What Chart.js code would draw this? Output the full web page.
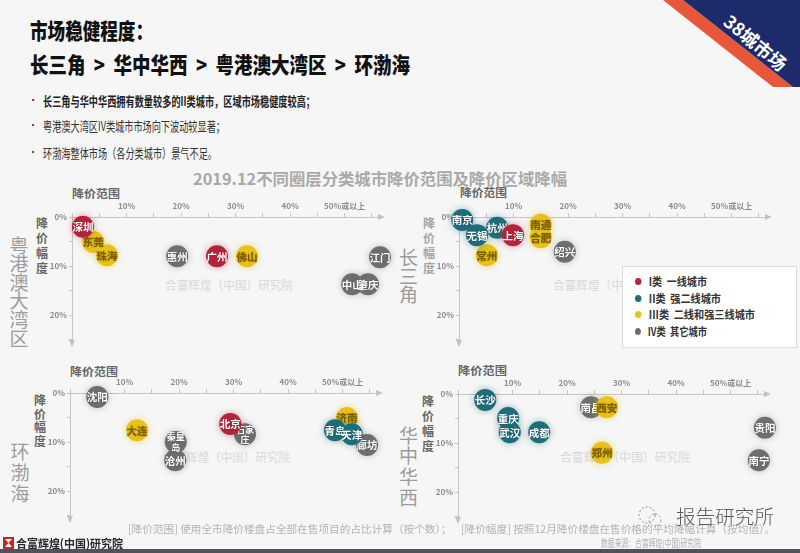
<!DOCTYPE html>
<html lang="zh">
<head>
<meta charset="utf-8">
<title>2019.12不同圈层分类城市降价范围及降价区域降幅</title>
<script src="https://cdn.jsdelivr.net/npm/chart.js@4.4.1/dist/chart.umd.min.js"></script>
<style>
  html, body { margin: 0; padding: 0; }
  body {
    width: 800px; height: 553px; overflow: hidden; position: relative;
    background: #f6f6f6;
    font-family: "Noto Sans CJK SC", "Noto Sans", sans-serif;
  }
  .t { position: absolute; white-space: nowrap; transform-origin: 0 50%; z-index: 2; }
  .v { position: absolute; text-align: center; z-index: 2; }
  .wm { position: absolute; white-space: nowrap; transform-origin: 0 50%; z-index: 1;
        color: #d9d9d9; font-size: 12px; line-height: 12px; }
  canvas { position: absolute; z-index: 2; }
  .gt { margin: 0 10px; }
  #legend {
    position: absolute; left: 622px; top: 266px; width: 175px; height: 82px;
    background: #fff; border: 1px solid #dcdcdc; box-sizing: border-box; z-index: 3;
  }
  #legend .item { position: absolute; left: 12px; height: 12px; line-height: 12px;
    font-size: 11px; font-weight: bold; color: #333; white-space: nowrap;
    transform-origin: 0 50%; }
  #legend .dot { display: inline-block; width: 7px; height: 7px; border-radius: 50%;
    margin-right: 8px; vertical-align: 1px; }
</style>
</head>
<body>

<!-- header -->
<div class="t" data-w="123" style="left:30px;top:18px;font-size:22px;line-height:22px;font-weight:900;color:#111;">市场稳健程度：</div>
<div class="t" data-w="380" style="left:30px;top:52px;font-size:22px;line-height:22px;font-weight:900;color:#111;">长三角<span class="gt">&gt;</span>华中华西<span class="gt">&gt;</span>粤港澳大湾区<span class="gt">&gt;</span>环渤海</div>

<div class="t" style="left:28px;top:94px;font-size:10px;line-height:12px;color:#333;">•</div>
<div class="t" style="left:28px;top:119px;font-size:10px;line-height:12px;color:#333;">•</div>
<div class="t" style="left:28px;top:146px;font-size:10px;line-height:12px;color:#333;">•</div>
<div class="t" data-w="272" style="left:43px;top:93.5px;font-size:13px;line-height:13px;font-weight:bold;color:#222;">长三角与华中华西拥有数量较多的II类城市，区域市场稳健度较高；</div>
<div class="t" data-w="182" style="left:43px;top:118.5px;font-size:13px;line-height:13px;color:#333;">粤港澳大湾区IV类城市市场向下波动较显著；</div>
<div class="t" data-w="174" style="left:43px;top:145.5px;font-size:13px;line-height:13px;color:#333;">环渤海整体市场（各分类城市）景气不足。</div>

<div class="t" data-w="374" style="left:193px;top:170px;font-size:16px;line-height:16px;font-weight:bold;color:#a9a9a9;">2019.12不同圈层分类城市降价范围及降价区域降幅</div>

<!-- ribbon -->
<svg style="position:absolute;left:0;top:0;z-index:4;" width="800" height="100">
  <polygon points="663,0 683,0 793,87 773,87" fill="#e8573a"/>
  <polygon points="683,0 800,0 800,87 793,87" fill="#1d2b6c"/>
  <text transform="translate(756,42) rotate(40)" text-anchor="middle" dominant-baseline="central"
        fill="#fff" font-size="18" font-weight="bold" font-family="Noto Sans CJK SC">38城市场</text>
</svg>

<!-- panel watermarks -->
<div class="wm" data-w="128" style="left:165px;top:279px;">合富辉煌（中国）研究院</div>
<div class="wm" data-w="128" style="left:553px;top:279px;">合富辉煌（中国）研究院</div>
<div class="wm" data-w="127" style="left:163px;top:451px;">合富辉煌（中国）研究院</div>
<div class="wm" data-w="130" style="left:560px;top:451px;">合富辉煌（中国）研究院</div>

<!-- axis titles -->
<div class="t" data-w="48" style="left:72px;top:187px;font-size:11px;line-height:12px;font-weight:bold;color:#666;">降价范围</div>
<div class="t" data-w="47" style="left:460px;top:186px;font-size:11px;line-height:12px;font-weight:bold;color:#666;">降价范围</div>
<div class="t" data-w="48" style="left:70px;top:365px;font-size:11px;line-height:12px;font-weight:bold;color:#666;">降价范围</div>
<div class="t" data-w="49" style="left:458px;top:364px;font-size:11px;line-height:12px;font-weight:bold;color:#666;">降价范围</div>

<div class="v" style="left:36px;top:214.5px;width:12px;font-size:12px;line-height:15px;font-weight:bold;color:#666;">降<br>价<br>幅<br>度</div>
<div class="v" style="left:423px;top:214.5px;width:12px;font-size:12px;line-height:15px;font-weight:bold;color:#a5a5a5;">降<br>价<br>幅<br>度</div>
<div class="v" style="left:34px;top:393px;width:12px;font-size:12px;line-height:13.5px;font-weight:bold;color:#666;">降<br>价<br>幅<br>度</div>
<div class="v" style="left:422px;top:392.5px;width:12px;font-size:12px;line-height:15px;font-weight:bold;color:#666;">降<br>价<br>幅<br>度</div>

<!-- region labels -->
<div class="v" style="left:9.5px;top:235.7px;width:19px;font-size:19px;line-height:18.6px;color:#9c9c9c;">粤<br>港<br>澳<br>大<br>湾<br>区</div>
<div class="v" style="left:399px;top:248px;width:19px;font-size:19px;line-height:18.5px;color:#9c9c9c;">长<br>三<br>角</div>
<div class="v" style="left:10.5px;top:439.5px;width:19px;font-size:19px;line-height:21px;color:#9c9c9c;">环<br>渤<br>海</div>
<div class="v" style="left:399px;top:424.6px;width:19px;font-size:19px;line-height:20.7px;color:#9c9c9c;">华<br>中<br>华<br>西</div>

<canvas id="c-gba" width="378" height="170" style="left:27px;top:187px;"></canvas>
<canvas id="c-yrd" width="378" height="170" style="left:414px;top:187px;"></canvas>
<canvas id="c-bohai" width="378" height="170" style="left:25px;top:363px;"></canvas>
<canvas id="c-cw" width="378" height="170" style="left:413px;top:364px;"></canvas>

<div id="legend"></div>

<!-- footer -->
<div class="t" data-w="647" style="left:128px;top:522.5px;font-size:10.5px;line-height:11px;color:#b3b3b3;">[降价范围] 使用全市降价楼盘占全部在售项目的占比计算（按个数）；&nbsp;&nbsp;&nbsp;&nbsp;[降价幅度] 按照12月降价楼盘在售价格的平均降幅计算（按均值）。</div>
<div class="t" data-w="100" style="left:601px;top:538px;font-size:10px;line-height:10px;color:#b0b0b0;">数据来源：合富辉煌(中国)研究院</div>

<svg style="position:absolute;left:636px;top:505px;z-index:2;" width="28" height="24">
  <circle cx="11" cy="10" r="8" fill="none" stroke="#888" stroke-width="1" stroke-dasharray="2 2"/>
  <circle cx="19" cy="15" r="6" fill="none" stroke="#999" stroke-width="1" stroke-dasharray="2 2"/>
</svg>
<div class="t" data-w="98" style="left:676px;top:506px;font-size:19px;line-height:20px;font-weight:300;color:#5a5a5a;">报告研究所</div>

<svg style="position:absolute;left:3px;top:537px;z-index:2;" width="11" height="12">
  <rect x="0" y="0" width="11" height="12" fill="#c3262e"/>
  <polygon points="2,2 9,2 5.5,6 9,10 2,10 5.5,6" fill="#f5f5f5"/>
</svg>
<div class="t" data-w="107" style="left:16px;top:537px;font-size:11.5px;line-height:12px;font-weight:bold;color:#2a2a2a;">合富辉煌(中国)研究院</div>
<div style="position:absolute;left:0;top:549px;width:800px;height:4px;background:#4d545c;"></div>

<script>
// 分类
const tierNames = ['I类  一线城市', 'II类  强二线城市', 'III类  二线和强三线城市', 'IV类  其它城市'];

// 刻度
const rangeTickValues = [10, 20, 30, 40, 50];
const rangeTickLabels = ['10%', '20%', '30%', '40%', '50%或以上'];
const dropTickValues = [0, 10, 20];
const dropTickLabels = ['0%', '10%', '20%'];

// 粤港澳大湾区
const gbaCities = ['深圳', '东莞', '珠海', '惠州', '广州', '佛山', '江门', '中山', '肇庆'];
const gbaRange  = [2.0, 3.9, 6.4, 19.3, 26.6, 32.1, 56.5, 51.4, 54.3];
const gbaDrop   = [2.0, 5.1, 7.8, 8.0, 8.0, 8.0, 8.2, 13.7, 13.7];
const gbaTier   = [1, 3, 3, 4, 1, 3, 4, 4, 4];

// 长三角
const yrdCities = ['南京', '无锡', '杭州', '上海', '南通', '合肥', '常州', '绍兴'];
const yrdRange  = [0.6, 3.3, 7.0, 9.9, 15.0, 15.0, 5.1, 19.4];
const yrdDrop   = [0.6, 3.7, 2.2, 3.7, 1.6, 4.1, 7.8, 7.1];
const yrdTier   = [2, 2, 2, 1, 3, 3, 3, 4];

// 环渤海
const bohaiCities = ['沈阳', '大连', '秦皇岛', '沧州', '北京', '石家庄', '济南', '青岛', '天津', '廊坊'];
const bohaiRange  = [5.0, 12.3, 19.4, 19.3, 29.4, 32.1, 50.8, 48.6, 51.7, 54.5];
const bohaiDrop   = [0.8, 7.6, 10.0, 13.7, 6.3, 8.4, 5.1, 7.6, 8.4, 10.6];
const bohaiTier   = [4, 3, 4, 4, 1, 4, 3, 2, 2, 4];

// 华中华西
const cwCities = ['长沙', '重庆', '武汉', '成都', '南昌', '西安', '郑州', '贵阳', '南宁'];
const cwRange  = [5.0, 9.2, 9.5, 14.9, 24.4, 27.3, 26.4, 56.3, 55.2];
const cwDrop   = [1.2, 4.9, 7.8, 7.8, 2.7, 2.7, 12.0, 6.9, 13.5];
const cwTier   = [2, 2, 2, 2, 4, 3, 3, 4, 4];

const tierColors = ['#b3243b', '#1f6d7b', '#e8c11a', '#6e6e6e'];
const tierGlow = ['rgba(179,36,59,0.45)', 'rgba(31,109,123,0.45)', 'rgba(232,193,26,0.55)', 'rgba(110,110,110,0.4)'];
const tierText = ['#ffffff', '#ffffff', '#7d5f00', '#ffffff'];

// 坐标轴箭头
const arrowPlugin = {
  id: 'arrows',
  afterDraw(chart) {
    const { ctx, chartArea: { left, top, right, bottom } } = chart;
    ctx.save();
    ctx.fillStyle = '#c2c2c2';
    ctx.beginPath();
    ctx.moveTo(right + 5, top);
    ctx.lineTo(right - 2, top - 3);
    ctx.lineTo(right - 2, top + 3);
    ctx.closePath();
    ctx.fill();
    ctx.beginPath();
    ctx.moveTo(left, bottom + 5);
    ctx.lineTo(left - 3, bottom - 2);
    ctx.lineTo(left + 3, bottom - 2);
    ctx.closePath();
    ctx.fill();
    ctx.restore();
  }
};

// 气泡光晕和城市名
const bubblePlugin = {
  id: 'bubbleLabels',
  beforeDatasetDraw(chart, args) {
    const ds = chart.data.datasets[args.index];
    chart.ctx.save();
    chart.ctx.shadowColor = ds.glow;
    chart.ctx.shadowBlur = 7;
  },
  afterDatasetDraw(chart, args) {
    const ctx = chart.ctx;
    ctx.restore();
    const ds = chart.data.datasets[args.index];
    ctx.save();
    ctx.fillStyle = ds.textColor;
    ctx.textAlign = 'center';
    ctx.textBaseline = 'middle';
    ctx.shadowColor = 'rgba(0,0,0,0.35)';
    ctx.shadowBlur = 1.5;
    args.meta.data.forEach((el, i) => {
      const name = ds.names[i];
      if (name.length > 2) {
        ctx.font = 'bold 9px "Noto Sans CJK SC"';
        ctx.fillText(name.slice(0, 2), el.x, el.y - 5);
        ctx.fillText(name.slice(2), el.x, el.y + 5.5);
      } else {
        ctx.font = 'bold 10.5px "Noto Sans CJK SC"';
        ctx.fillText(name, el.x, el.y + 0.5);
      }
    });
    ctx.restore();
  }
};

const tickFont = { family: '"Noto Sans CJK SC"', size: 8, weight: 'bold' };

function makePanel(canvasId, cities, range, drop, tier) {
  const datasets = tierNames.map((name, t) => {
    const idx = tier.map((v, i) => (v === t + 1 ? i : -1)).filter(i => i >= 0);
    return {
      label: name,
      data: idx.map(i => ({ x: range[i], y: drop[i] })),
      names: idx.map(i => cities[i]),
      backgroundColor: tierColors[t],
      glow: tierGlow[t],
      textColor: tierText[t],
      borderWidth: 0,
      radius: 11,
      hoverRadius: 0,
      clip: false
    };
  });

  return new Chart(document.getElementById(canvasId), {
    type: 'bubble',
    data: { datasets },
    options: {
      responsive: false,
      animation: false,
      events: [],
      layout: { autoPadding: false, padding: { left: 0, top: 0, right: 25, bottom: 15 } },
      plugins: { legend: { display: false }, tooltip: { enabled: false } },
      scales: {
        x: {
          type: 'linear', position: 'top', min: 0, max: 56.5,
          afterFit(scale) { scale.height = 30; },
          border: { color: '#c6c6c6', width: 1 },
          grid: { drawOnChartArea: false, tickLength: 4, color: '#c6c6c6' },
          ticks: {
            stepSize: 5, includeBounds: false, autoSkip: false, maxRotation: 0,
            padding: 2, color: '#8c8c8c', font: tickFont,
            callback(v) {
              const k = rangeTickValues.indexOf(v);
              return k >= 0 ? rangeTickLabels[k] : '';
            }
          }
        },
        y: {
          type: 'linear', position: 'left', reverse: true, min: 0, max: 25.5,
          afterFit(scale) { scale.width = 45; },
          border: { color: '#c6c6c6', width: 1 },
          grid: { drawOnChartArea: false, tickLength: 3, color: '#c6c6c6' },
          ticks: {
            stepSize: 5, includeBounds: false, autoSkip: false,
            padding: 2, color: '#8c8c8c', font: tickFont,
            callback(v) {
              const k = dropTickValues.indexOf(v);
              return k >= 0 ? dropTickLabels[k] : '';
            }
          }
        }
      }
    },
    plugins: [arrowPlugin, bubblePlugin]
  });
}

function fitTexts() {
  document.querySelectorAll('[data-w]').forEach(el => {
    el.style.transform = 'none';
    const natural = el.getBoundingClientRect().width;
    if (natural > 0) el.style.transform = 'scaleX(' + (Number(el.dataset.w) / natural) + ')';
  });
}

document.addEventListener('DOMContentLoaded', function() {
  makePanel('c-gba', gbaCities, gbaRange, gbaDrop, gbaTier);
  makePanel('c-yrd', yrdCities, yrdRange, yrdDrop, yrdTier);
  makePanel('c-bohai', bohaiCities, bohaiRange, bohaiDrop, bohaiTier);
  makePanel('c-cw', cwCities, cwRange, cwDrop, cwTier);

  // 自定义图例
  const legend = document.getElementById('legend');
  const legendWidths = [72, 86, 120, 72];
  legend.innerHTML = tierNames.map((name, t) => `
    <div class="item" data-w="${legendWidths[t]}" style="top:${8 + t * 16.5}px;">
      <span class="dot" style="background:${tierColors[t]};"></span>${name.replace('  ', '&nbsp;&nbsp;')}
    </div>`).join('');

  fitTexts();
  if (document.fonts) document.fonts.ready.then(fitTexts);
});
</script>
</body>
</html>
